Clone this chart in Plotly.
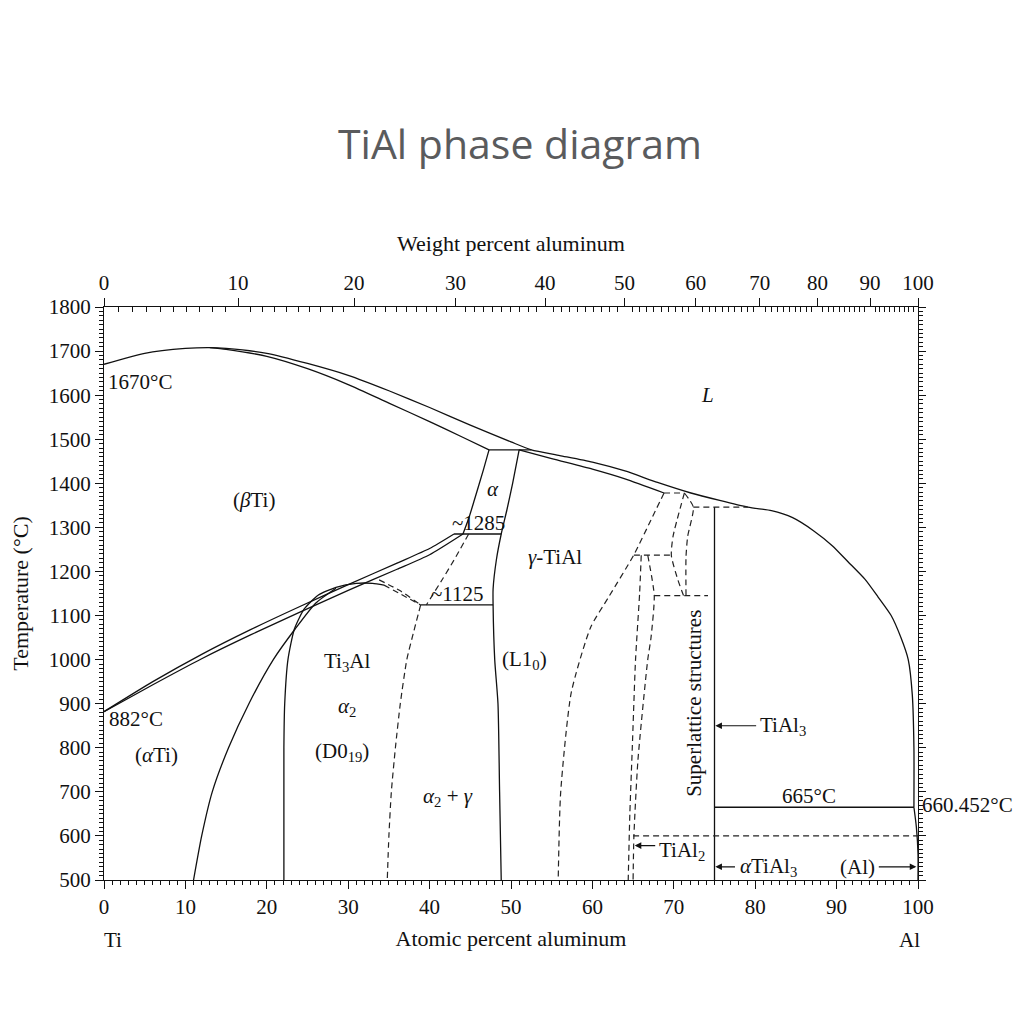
import plotly.graph_objects as go

# ---------------- data (atomic % Al, temperature °C) ----------------
liq_x = [0, 5, 10, 13, 15, 20, 25, 30, 35, 40, 45, 50, 52.5, 56, 60, 64, 68, 72.1,
         79.1, 82, 84.6, 87.2, 89.5, 91.4, 93.5, 95.1, 96.7, 97.9, 98.8, 99.3, 99.5, 99.5]
liq_T = [1670, 1695, 1706, 1708, 1706, 1695, 1672, 1645, 1610, 1572, 1532, 1494, 1476, 1463,
         1448, 1428, 1402, 1378, 1346, 1338, 1322, 1292, 1258, 1222, 1182, 1142, 1100, 1050,
         1000, 920, 800, 665]

bsol_x = [13, 15, 20, 25, 30, 35, 40, 44, 47.3]
bsol_T = [1708, 1704, 1688, 1660, 1624, 1582, 1540, 1505, 1476]

per1_x = [47.3, 52.5]
per1_T = [1476, 1476]

gsol_x = [51, 55, 60, 64, 68.8]
gsol_T = [1476, 1456, 1432, 1410, 1378]

ggl_x = [51, 50.2, 49.5, 48.8, 48.2, 47.8, 47.8, 48.0, 48.4, 48.6, 48.8]
ggl_T = [1476, 1400, 1340, 1285, 1226, 1160, 1124, 1000, 900, 700, 500]

alfl_x = [47.3, 46.6, 45.5, 44.8, 44.1]
alfl_T = [1476, 1430, 1362, 1320, 1285]

btr_x = [0, 6, 12, 18, 24, 30, 36, 40, 43]
btr_T = [882, 950, 1012, 1068, 1120, 1170, 1219, 1252, 1285]

atr_x = [0, 6, 12, 18, 24, 30, 36, 40, 44.1]
atr_T = [882, 943, 1002, 1056, 1107, 1157, 1205, 1238, 1285]

eut1_x = [43, 48.8]
eut1_T = [1285, 1285]

a2l_x = [11, 12, 13.3, 15.3, 17.8, 20.8, 23.5, 26, 28.5]
a2l_T = [500, 600, 700, 800, 900, 1000, 1070, 1128, 1162]

dome_x = [22.1, 22.1, 22.2, 22.6, 23.4, 24.6, 26.3, 28.5, 31, 33, 34.4]
dome_T = [500, 800, 900, 1000, 1070, 1115, 1146, 1164, 1173, 1173, 1169]

dd1_x = [34.4, 36.5, 38.9]
dd1_T = [1169, 1148, 1124]
dd2_x = [33.8, 36.4, 38.9]
dd2_T = [1181, 1156, 1124]

eut2_x = [38.9, 47.8]
eut2_T = [1124, 1124]

a2r_x = [38.9, 38, 37.2, 36.4, 35.8, 35.3, 35, 34.8]
a2r_T = [1124, 1060, 1000, 900, 800, 700, 600, 500]

agam_x = [44.8, 43, 41.5, 39.6]
agam_T = [1285, 1226, 1180, 1124]

gr_x = [68.8, 67.2, 65.1, 62, 59.8, 57.4, 56.1, 55.8]
gr_T = [1378, 1317, 1238, 1142, 1074, 925, 698, 500]

per2_x = [68.8, 71.3]
per2_T = [1378, 1378]

dl_x = [71.3, 69.9, 69.7, 70.5, 71.2]
dl_T = [1378, 1279, 1236, 1181, 1145]
dr_x = [71.3, 72.4, 71.7, 71.5, 71.5]
dr_T = [1378, 1346, 1279, 1233, 1145]

h1237_x = [65.1, 69.7]
h1237_T = [1237, 1237]

t2l_x = [66, 65.8, 65.3, 64.9, 64.6, 64.4]
t2l_T = [1237, 1150, 1000, 800, 650, 500]
t2r_x = [66.8, 67.6, 67.2, 66.8, 65.6, 65.1, 65]
t2r_T = [1237, 1145, 1050, 1000, 773, 600, 500]

h1145_x = [67.6, 74.2]
h1145_T = [1145, 1145]

h1346_x = [72.4, 79.1]
h1346_T = [1346, 1346]

tial3_x = [75, 75]
tial3_T = [1346, 500]

eut665_x = [75, 99.5]
eut665_T = [665, 665]

h600_x = [65, 100]
h600_T = [600, 600]

alsolv_x = [99.5, 99.8, 100, 100]
alsolv_T = [665, 620, 560, 500]

wt_major = [0, 10, 20, 30, 40, 50, 60, 70, 80, 90, 100]
wt_minor = [w for w in range(1, 100) if w % 10 != 0]

M_AL, M_TI = 26.98, 47.87


def at_from_wt(w):
    if w <= 0:
        return 0.0
    if w >= 100:
        return 100.0
    a = w / M_AL
    b = (100 - w) / M_TI
    return 100 * a / (a + b)


solid = [
    (liq_x, liq_T), (bsol_x, bsol_T), (per1_x, per1_T), (gsol_x, gsol_T),
    (ggl_x, ggl_T), (alfl_x, alfl_T), (btr_x, btr_T), (atr_x, atr_T),
    (eut1_x, eut1_T), (a2l_x, a2l_T), (dome_x, dome_T), (eut2_x, eut2_T),
    (tial3_x, tial3_T), (eut665_x, eut665_T), (alsolv_x, alsolv_T),
]
dashed = [
    (dd1_x, dd1_T), (dd2_x, dd2_T), (a2r_x, a2r_T), (agam_x, agam_T),
    (gr_x, gr_T), (per2_x, per2_T), (dl_x, dl_T), (dr_x, dr_T),
    (h1237_x, h1237_T), (t2l_x, t2l_T), (t2r_x, t2r_T), (h1145_x, h1145_T),
    (h1346_x, h1346_T), (h600_x, h600_T),
]

fig = go.Figure()
for xs, ts in solid:
    fig.add_trace(go.Scatter(x=xs, y=ts, mode="lines", line=dict(color="#111", width=1.3,
                             shape="spline", smoothing=0.6), hoverinfo="skip", showlegend=False))
for xs, ts in dashed:
    fig.add_trace(go.Scatter(x=xs, y=ts, mode="lines", line=dict(color="#222", width=1.2,
                             dash="6px,4px", shape="spline", smoothing=0.6),
                             hoverinfo="skip", showlegend=False))
# dummy traces to activate overlay axes
fig.add_trace(go.Scatter(x=[], y=[], xaxis="x2", yaxis="y", showlegend=False))
fig.add_trace(go.Scatter(x=[], y=[], xaxis="x3", yaxis="y", showlegend=False))
fig.add_trace(go.Scatter(x=[], y=[], xaxis="x", yaxis="y2", showlegend=False))

SERIF = "Liberation Serif"
TF = dict(family=SERIF, size=21, color="#111")
TICKF = dict(family=SERIF, size=21, color="#111")
AXF = dict(family=SERIF, size=22, color="#111")

labels = [
    (0.2, 1629, "1670°C", "left"),
    (74.2, 1600, "<i>L</i>", "center"),
    (18.4, 1362, "(<i>β</i>Ti)", "center"),
    (47.8, 1387, "<i>α</i>", "center"),
    (46.0, 1310, "~1285", "center"),
    (55.4, 1233, "<i>γ</i>-TiAl", "center"),
    (43.4, 1149, "~1125", "center"),
    (29.9, 995, "Ti<sub>3</sub>Al", "center"),
    (29.9, 893, "<i>α</i><sub>2</sub>", "center"),
    (29.2, 791, "(D0<sub>19</sub>)", "center"),
    (51.6, 1000, "(L1<sub>0</sub>)", "center"),
    (0.4, 866, "882°C", "left"),
    (6.5, 784, "(<i>α</i>Ti)", "center"),
    (42.2, 689, "<i>α</i><sub>2</sub> + <i>γ</i>", "center"),
    (80.4, 850, "TiAl<sub>3</sub>", "left"),
    (86.6, 690, "665°C", "center"),
    (67.9, 566, "TiAl<sub>2</sub>", "left"),
    (77.9, 530, "<i>α</i>TiAl<sub>3</sub>", "left"),
    (92.6, 530, "(Al)", "center"),
]
ann = []
for x, t, s, anc in labels:
    ann.append(dict(x=x, y=t, xref="x", yref="y", text=s, showarrow=False, xanchor=anc,
                    yanchor="middle", font=TF))
ann.append(dict(x=72.5, y=900, xref="x", yref="y", text="Superlattice structures", textangle=-90,
                showarrow=False, font=TF))
arrows = [
    (75.1, 850, 80.3, 850),
    (65.2, 578, 67.9, 578),
    (75.1, 530, 77.7, 530),
    (99.8, 530, 95.0, 530),
]
for hx, hy, tx, ty in arrows:
    ann.append(dict(x=hx, y=hy, ax=tx, ay=ty, xref="x", yref="y", axref="x", ayref="y", text="",
                    showarrow=True, arrowhead=2, arrowsize=1.1, arrowwidth=1.2, arrowcolor="#111"))
ann.append(dict(x=1.002, y=(671 - 500) / 1300, xref="paper", yref="paper", text="660.452°C",
                showarrow=False, xanchor="left", yanchor="middle", font=TF))
ann.append(dict(x=0.011, y=-0.105, xref="paper", yref="paper", text="Ti", showarrow=False,
                xanchor="center", yanchor="middle", font=TF))
ann.append(dict(x=0.99, y=-0.105, xref="paper", yref="paper", text="Al", showarrow=False,
                xanchor="center", yanchor="middle", font=TF))

fig.update_layout(
    width=1024, height=1024,
    margin=dict(l=96, r=114, t=299, b=152, autoexpand=False),
    paper_bgcolor="white", plot_bgcolor="white",
    title=dict(text="TiAl phase diagram", x=0.5, xanchor="center", y=1 - 137 / 1024,
               yanchor="middle", yref="container",
               font=dict(family="Open Sans", size=41, color="#5a5b5d")),
    annotations=ann,
    xaxis=dict(range=[0, 100], tickvals=list(range(0, 101, 10)), ticks="outside", ticklen=8,
               tickwidth=1, tickcolor="#111", showline=True, linecolor="#111", linewidth=1,
               showgrid=False, zeroline=False, tickfont=TICKF, automargin=False,
               minor=dict(dtick=1, ticks="outside", ticklen=4, tickcolor="#111"),
               title=dict(text="Atomic percent aluminum", font=AXF, standoff=12)),
    xaxis2=dict(range=[0, 100], overlaying="x", side="top", anchor="y", automargin=False,
                tickvals=[at_from_wt(w) for w in wt_major], ticktext=[str(w) for w in wt_major],
                ticks="outside", ticklen=8, tickcolor="#111", showline=True, linecolor="#111",
                showgrid=False, zeroline=False, tickfont=TICKF,
                title=dict(text="Weight percent aluminum", font=AXF, standoff=12)),
    xaxis3=dict(range=[0, 100], overlaying="x", side="top", anchor="y", automargin=False,
                tickvals=[at_from_wt(w) for w in wt_minor], ticktext=["" for _ in wt_minor],
                ticks="inside", ticklen=5, tickcolor="#111", showline=False, showgrid=False,
                zeroline=False, showticklabels=False),
    yaxis=dict(range=[500, 1800], tickvals=list(range(500, 1801, 100)), ticks="outside", ticklen=8,
               tickcolor="#111", showline=True, linecolor="#111", linewidth=1, showgrid=False,
               zeroline=False, tickfont=TICKF, automargin=False,
               minor=dict(dtick=10, ticks="outside", ticklen=4, tickcolor="#111"),
               title=dict(text="Temperature (°C)", font=AXF, standoff=16)),
    yaxis2=dict(range=[500, 1800], overlaying="y", side="right", anchor="x", automargin=False,
                tickvals=list(range(500, 1801, 100)), ticks="outside", ticklen=7, tickcolor="#111",
                showline=True, linecolor="#111", showgrid=False, zeroline=False,
                showticklabels=False,
                minor=dict(dtick=10, ticks="outside", ticklen=4, tickcolor="#111")),
)

fig.write_html("out.html")
